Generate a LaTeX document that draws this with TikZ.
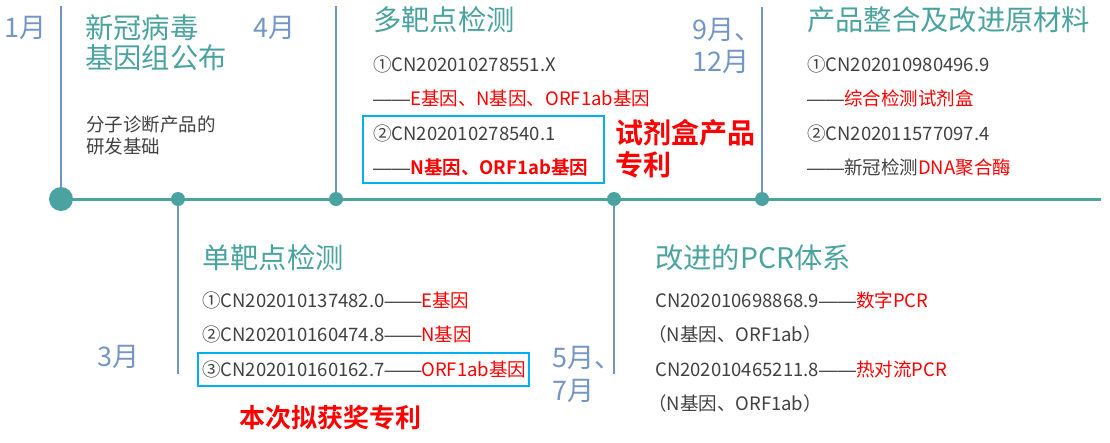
\documentclass[tikz,border=0pt]{standalone}
\usepackage{fontspec}
\setmainfont{Noto Sans CJK SC}[BoldFont={Noto Sans CJK SC Bold}]
\newfontfamily\dashfont{Liberation Sans}
\newcommand{\dd}{{\dashfont ——}}
\definecolor{teal1}{HTML}{4AA39F}
\definecolor{axis}{HTML}{4AA3A0}
\definecolor{vline}{HTML}{7094C4}
\definecolor{month}{HTML}{7496C6}
\definecolor{body}{HTML}{404040}
\definecolor{redt}{HTML}{FF0000}
\definecolor{boxc}{HTML}{00B0F0}
\tikzset{
  title/.style={anchor=west,inner sep=0,text=teal1,font=\fontsize{28.3}{30}\selectfont},
  monthlbl/.style={anchor=west,inner sep=0,text=month,font=\fontsize{27}{29}\selectfont},
  txt/.style={anchor=west,inner sep=0,text=body,font=\fontsize{18.5}{20}\selectfont},
  bigred/.style={anchor=west,inner sep=0,text=redt,font=\fontsize{28}{30}\selectfont\bfseries},
  vln/.style={draw=vline,line width=2.5pt},
  axisln/.style={draw=axis,line width=3pt},
  bigdot/.style={circle,fill=axis,inner sep=0,minimum size=24pt},
  dot/.style={circle,fill=axis,inner sep=0,minimum size=14pt},
  hbox/.style={draw=boxc,line width=2pt,inner sep=0}
}
\begin{document}
\begin{tikzpicture}[x=1pt,y=-1pt]
\useasboundingbox (0,0) rectangle (1110,442);
% dots
\coordinate (d0) at (61,199);
\coordinate (d1) at (178,199);
\coordinate (d2) at (336,199);
\coordinate (d3) at (614,199);
\coordinate (d4) at (762,199);
\coordinate (axend) at (1101,199);
\coordinate (t0) at (61,6);
\coordinate (t2) at (336,6);
\coordinate (t4) at (762,7);
\coordinate (b1) at (178,374);
\coordinate (b3) at (614,374);
\draw[vln] (t0) -- (d0);
\draw[vln] (t2) -- (d2);
\draw[vln] (t4) -- (d4);
\draw[vln] (d1) -- (b1);
\draw[vln] (d3) -- (b3);
\draw[axisln] (d0) -- (axend);
\node[bigdot] (n0) at (d0) {};
\node[dot] (n1) at (d1) {};
\node[dot] (n2) at (d2) {};
\node[dot] (n3) at (d3) {};
\node[dot] (n4) at (d4) {};
% months
\node[monthlbl] (m1) at (4,28) {1月};
\node[monthlbl] (m4) at (253,28) {4月};
\node[monthlbl] (m9) at (692,30) {9月、};
\node[monthlbl] (m12) at (692,62) {12月};
\node[monthlbl] (m3) at (97,357) {3月};
\node[monthlbl] (m5) at (552,358) {5月、};
\node[monthlbl] (m7) at (552,391) {7月};
% block 1
\node[title] (ti1a) at (85,28) {新冠病毒};
\node[title] (ti1b) at (85,58) {基因组公布};
\node[txt] (s1a) at (86,124) {分子诊断产品的};
\node[txt] (s1b) at (86,146) {研发基础};
% block multi
\node[title] (ti2) at (373,20) {多靶点检测};
\node[txt] (p2a) at (373,64) {①CN202010278551.X};
\node[txt] (p2b) at (373,98) {\dd\textcolor{redt}{E基因、N基因、ORF1ab基因}};
\node[txt] (p2c) at (373,133) {②CN202010278540.1};
\node[txt] (p2d) at (373,167) {\dd\textcolor{redt}{\bfseries N基因、ORF1ab基因}};
\node[hbox,minimum width=241pt,minimum height=67pt] (boxA) at (483.5,149.5) {};
\node[bigred] (kit1) at (615,133) {试剂盒产品};
\node[bigred] (kit2) at (615,165) {专利};
% block right
\node[title] (ti4) at (807,20) {产品整合及改进原材料};
\node[txt] (p4a) at (807,64) {①CN202010980496.9};
\node[txt] (p4b) at (807,98) {\dd\textcolor{redt}{综合检测试剂盒}};
\node[txt] (p4c) at (807,133) {②CN202011577097.4};
\node[txt] (p4d) at (807,167) {\dd 新冠检测\textcolor{redt}{DNA聚合酶}};
% block single
\node[title] (ti3) at (202,258) {单靶点检测};
\node[txt] (p3a) at (202,300) {①CN202010137482.0\dd\textcolor{redt}{E基因}};
\node[txt] (p3b) at (202,334) {②CN202010160474.8\dd\textcolor{redt}{N基因}};
\node[txt] (p3c) at (202,369) {③CN202010160162.7\dd\textcolor{redt}{ORF1ab基因}};
\node[hbox,minimum width=331pt,minimum height=33pt] (boxB) at (363.5,369.5) {};
\node[bigred,font=\fontsize{26}{28}\selectfont\bfseries] (award) at (239,418) {本次拟获奖专利};
% block PCR
\node[title] (ti5) at (655,258) {改进的PCR体系};
\node[txt] (p5a) at (655,300) {CN202010698868.9\dd\textcolor{redt}{数字PCR}};
\node[txt] (p5b) at (648,334) {（N基因、ORF1ab）};
\node[txt] (p5c) at (655,369) {CN202010465211.8\dd\textcolor{redt}{热对流PCR}};
\node[txt] (p5d) at (648,403) {（N基因、ORF1ab）};
\end{tikzpicture}
\end{document}
